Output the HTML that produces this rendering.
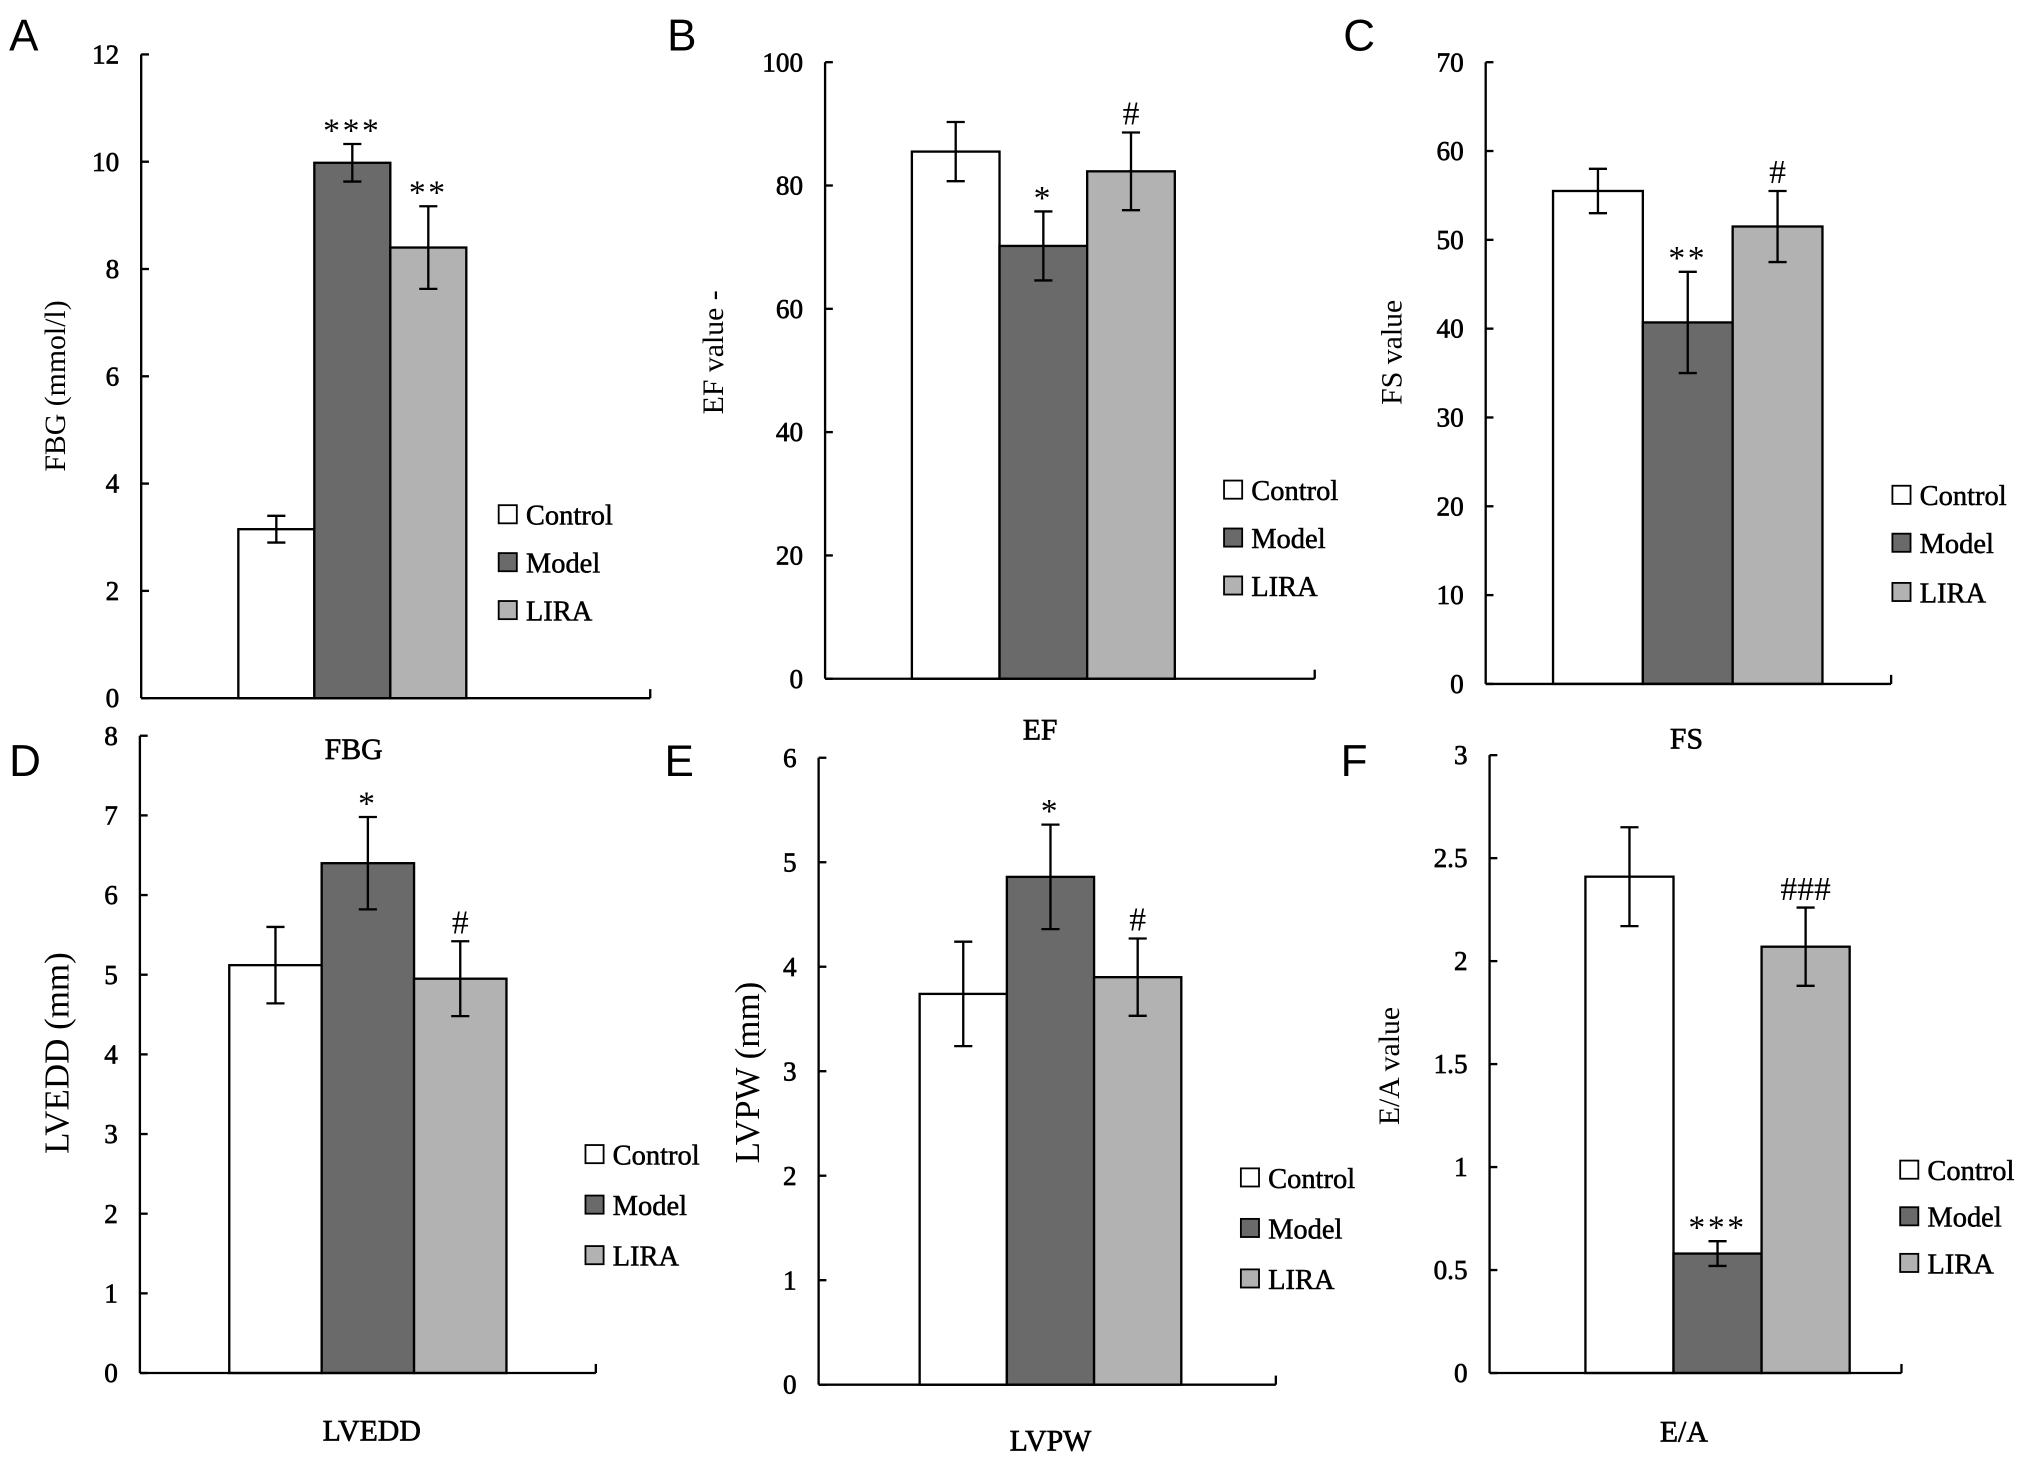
<!DOCTYPE html>
<html><head><meta charset="utf-8"><style>
html,body{margin:0;padding:0;background:#fff;}
svg{display:block;}
text{font-family:"Liberation Serif",serif;fill:#000;}
.tick{font-size:21px;stroke:#000;stroke-width:0.5px;}
.leg{font-size:22px;stroke:#000;stroke-width:0.4px;}
.xl{font-size:23px;stroke:#000;stroke-width:0.5px;}
.yl{font-size:23px;}
.ylb{font-size:27px;}
.ann{font-size:26px;}
.let{font-family:"Liberation Sans",sans-serif;font-size:34px;}
</style></head><body>
<svg id="chart" width="2031" height="1465" viewBox="0 0 1568 1131" xmlns="http://www.w3.org/2000/svg"></svg>
<script>
const groups = ["Control","Model","LIRA"];
const colors = ["#ffffff","#6a6a6a","#b2b2b2"];
const fbgValues = [3.15, 9.98, 8.4];
const fbgErrors = [0.25, 0.35, 0.77];
const fbgMarks = ["", "***", "**"];
const fbgTicks = [0,2,4,6,8,10,12];
const efValues = [85.5, 70.2, 82.3];
const efErrors = [4.8, 5.6, 6.3];
const efMarks = ["", "*", "#"];
const efTicks = [0,20,40,60,80,100];
const fsValues = [55.5, 40.7, 51.5];
const fsErrors = [2.5, 5.7, 4.0];
const fsMarks = ["", "**", "#"];
const fsTicks = [0,10,20,30,40,50,60,70];
const lveddValues = [5.12, 6.4, 4.95];
const lveddErrors = [0.48, 0.58, 0.47];
const lveddMarks = ["", "*", "#"];
const lveddTicks = [0,1,2,3,4,5,6,7,8];
const lvpwValues = [3.74, 4.86, 3.9];
const lvpwErrors = [0.5, 0.5, 0.37];
const lvpwMarks = ["", "*", "#"];
const lvpwTicks = [0,1,2,3,4,5,6];
const eaValues = [2.41, 0.58, 2.07];
const eaErrors = [0.24, 0.06, 0.19];
const eaMarks = ["", "***", "###"];
const eaTicks = ["0","0.5","1","1.5","2","2.5","3"];

const NS="http://www.w3.org/2000/svg";
const svg=document.getElementById('chart');
function mk(tag,attrs,parent,txt){const e=document.createElementNS(NS,tag);for(const k in attrs)e.setAttribute(k,attrs[k]);if(txt!==undefined)e.textContent=txt;(parent||svg).appendChild(e);return e;}

function panel(p){
  const g=mk('g',{});
  
  
  const max=parseFloat(p.ticks[p.ticks.length-1]);
  const y=v=>p.y0-(v/max)*(p.y0-p.yt);
  const bw=(p.bx1-p.bx0)/3;
  const x=i=>p.bx0+i*bw;
  const L=mk('text',{x:p.lx,y:p.ly,class:'let'},g,p.id);
  
  
  p.values.forEach((v,i)=>{
    const r=mk('rect',{x:x(i),y:y(v),width:bw,height:p.y0-y(v),fill:colors[i],stroke:'#000','stroke-width':1.8},g);
    
    
  });
  p.values.forEach((v,i)=>{
    const cx=x(i)+bw/2, hi=y(v+p.errors[i]), lo=y(v-p.errors[i]);
    const eg=mk('g',{stroke:'#000','stroke-width':1.8},g);
    
    
    mk('line',{x1:cx,y1:hi,x2:cx,y2:lo},eg);
    mk('line',{x1:cx-7,y1:hi,x2:cx+7,y2:hi},eg);
    mk('line',{x1:cx-7,y1:lo,x2:cx+7,y2:lo},eg);
    if(p.marks[i]){
      const star=p.marks[i][0]=='*';
      const t=mk('text',{x:cx,y:hi-(star?2:6),'text-anchor':'middle',class:'ann','letter-spacing':star?2:0},g,p.marks[i]);
      
      
    }
  });
  const ax=mk('g',{stroke:'#000','stroke-width':1.8,fill:'none'},g);
  
  
  mk('line',{x1:p.ax,y1:p.yt,x2:p.ax,y2:p.y0},ax);
  mk('line',{x1:p.ax,y1:p.y0,x2:p.ar,y2:p.y0},ax);
  mk('line',{x1:p.ar,y1:p.y0,x2:p.ar,y2:p.y0-7},ax);
  p.ticks.forEach(tk=>{
    const ty=y(parseFloat(tk));
    mk('line',{x1:p.ax,y1:ty,x2:p.ax+6,y2:ty},ax);
    const t=mk('text',{x:p.ax-17,y:ty+7,'text-anchor':'end',class:'tick'},g,String(tk));
    
    
  });
  const yl=mk('text',{x:0,y:0,'text-anchor':'middle',class:p.big?'ylb':'yl',transform:`translate(${p.ylx},${p.yly}) rotate(-90)`},g,p.ytitle);
  
  
  const xl=mk('text',{x:p.xlx,y:p.xly,'text-anchor':'middle',class:'xl'},g,p.xtitle);
  
  
  groups.forEach((gn,i)=>{
    const lg=mk('g',{},g);
    
    
    const ly=p.legY[i];
    mk('rect',{x:p.legX,y:ly-7,width:14,height:14,fill:colors[i],stroke:'#000','stroke-width':1.4},lg);
    mk('text',{x:p.legX+21,y:ly+8,class:'leg'},lg,gn);
  });
}

panel({id:'A',key:'fbg',values:fbgValues,errors:fbgErrors,marks:fbgMarks,ticks:fbgTicks,ax:109,yt:42,y0:539,ar:502,bx0:184,bx1:360,lx:7,ly:39,ylx:50,yly:298,ytitle:'FBG (mmol/l)',xlx:273,xly:586,xtitle:'FBG',legX:385,legY:[397,434,471]});
panel({id:'B',key:'ef',values:efValues,errors:efErrors,marks:efMarks,ticks:efTicks,ax:637,yt:48,y0:524,ar:1015,bx0:704,bx1:907,lx:515,ly:39,ylx:558,yly:272,ytitle:'EF value -',xlx:803,xly:571,xtitle:'EF',legX:945,legY:[378,415,452]});
panel({id:'C',key:'fs',values:fsValues,errors:fsErrors,marks:fsMarks,ticks:fsTicks,ax:1147,yt:48,y0:528,ar:1460,bx0:1199,bx1:1407,lx:1037,ly:39,ylx:1082,yly:272,ytitle:'FS value',xlx:1302,xly:578,xtitle:'FS',legX:1461,legY:[382,419,457]});
panel({id:'D',key:'lvedd',values:lveddValues,errors:lveddErrors,marks:lveddMarks,ticks:lveddTicks,ax:108,yt:568,y0:1060,ar:460,bx0:177,bx1:391,lx:7,ly:599,ylx:53,yly:813,ytitle:'LVEDD (mm)',xlx:287,xly:1112,xtitle:'LVEDD',legX:452,legY:[891,930,969],big:true});
panel({id:'E',key:'lvpw',values:lvpwValues,errors:lvpwErrors,marks:lvpwMarks,ticks:lvpwTicks,ax:632,yt:585,y0:1069,ar:985,bx0:710,bx1:912,lx:513,ly:599,ylx:586,yly:828,ytitle:'LVPW (mm)',xlx:811,xly:1120,xtitle:'LVPW',legX:958,legY:[909,948,987],big:true});
panel({id:'F',key:'ea',values:eaValues,errors:eaErrors,marks:eaMarks,ticks:eaTicks,ax:1150,yt:583,y0:1060,ar:1468,bx0:1224,bx1:1428,lx:1035,ly:599,ylx:1080,yly:823,ytitle:'E/A value',xlx:1300,xly:1113,xtitle:'E/A',legX:1467,legY:[903,939,975]});
</script>
</body></html>
